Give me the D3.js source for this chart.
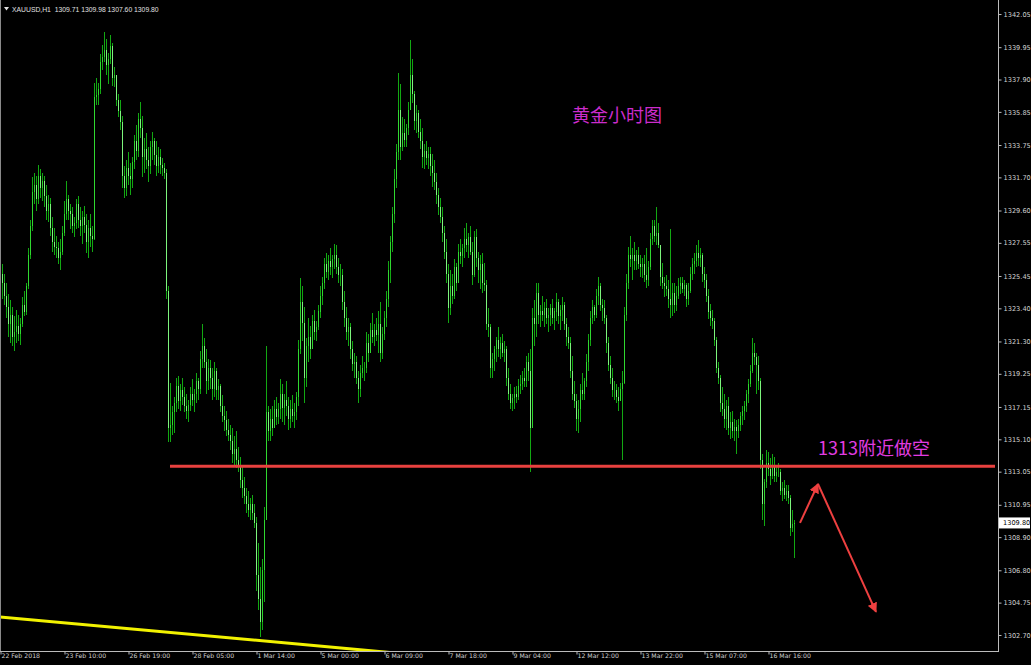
<!DOCTYPE html>
<html><head><meta charset="utf-8">
<script src="https://cdn.jsdelivr.net/npm/d3@7/dist/d3.min.js"></script>
<style>html,body{margin:0;padding:0;background:#000;}svg{display:block;}</style>
</head><body>
<svg id="c" width="1031" height="665"></svg>
<script>
// ---- DATA (XAUUSD H1, 22 Feb 2018 - 16 Mar 2018) ----
const firstOpen = 1325.6;
const closes = [
1325.0,1324.2,1323.5,1322.4,1323.0,1321.6,1321.9,1322.3,1321.8,1322.4,
1323.6,1323.2,1324.8,1326.8,1328.6,1330.8,1331.2,1330.3,1331.8,1331.0,
1331.5,1330.5,1329.6,1330.0,1328.5,1327.6,1327.3,1327.2,1326.6,1327.0,
1328.2,1329.4,1330.3,1329.6,1329.4,1328.6,1328.8,1330.0,1329.0,1328.6,
1329.2,1328.7,1327.6,1328.5,1328.0,1327.8,1336.8,1336.9,1337.3,1339.0,
1339.3,1339.8,1338.8,1339.2,1340.0,1338.0,1338.2,1336.6,1335.9,1335.2,
1331.8,1331.0,1332.3,1331.8,1331.6,1332.7,1334.0,1333.4,1335.4,1334.8,
1333.0,1333.5,1332.8,1332.4,1333.6,1334.0,1333.1,1332.4,1333.0,1332.5,
1332.3,1332.0,1324.5,1315.8,1316.0,1316.8,1317.4,1318.5,1317.5,1318.2,
1317.8,1317.2,1316.9,1317.3,1318.0,1317.6,1318.0,1318.8,1318.3,1320.2,
1321.0,1320.0,1318.8,1319.6,1319.0,1318.3,1319.4,1318.2,1318.5,1317.2,
1316.6,1316.3,1315.7,1315.4,1315.0,1314.2,1314.5,1313.8,1313.5,1312.5,
1312.0,1311.5,1311.0,1310.6,1311.0,1310.4,1309.8,1306.5,1305.0,1303.5,
1306.8,1310.0,1316.8,1315.6,1316.4,1315.8,1317.0,1316.5,1317.0,1318.0,
1317.1,1317.6,1317.2,1316.4,1317.0,1316.6,1316.8,1317.8,1320.8,1323.8,
1322.5,1319.0,1321.0,1321.6,1320.8,1322.6,1321.9,1322.2,1323.2,1324.2,
1325.0,1326.2,1325.7,1326.4,1326.0,1326.5,1326.8,1326.0,1325.5,1325.5,
1323.8,1322.8,1321.9,1322.2,1320.8,1319.9,1320.0,1319.0,1318.3,1319.3,
1319.6,1319.6,1321.2,1320.6,1322.0,1321.6,1322.0,1321.7,1322.4,1320.6,
1321.8,1322.8,1324.0,1325.8,1327.6,1329.4,1331.6,1333.3,1336.0,1333.6,
1334.5,1334.1,1334.8,1336.0,1338.2,1337.0,1335.3,1335.8,1334.6,1334.0,
1333.0,1333.4,1332.9,1333.2,1332.4,1332.0,1331.4,1330.6,1329.8,1329.2,
1328.2,1327.0,1325.6,1323.4,1324.8,1324.2,1326.0,1325.0,1327.0,1326.7,
1327.2,1327.8,1327.4,1327.9,1327.0,1325.5,1327.9,1326.6,1325.8,1326.2,
1325.0,1324.9,1322.4,1322.2,1319.6,1320.2,1320.8,1321.4,1320.8,1321.2,
1320.6,1320.8,1319.0,1318.0,1317.4,1317.7,1318.0,1317.8,1318.5,1318.6,
1319.0,1318.8,1320.0,1319.4,1315.8,1322.8,1322.4,1324.4,1323.0,1323.2,
1323.0,1323.4,1322.8,1323.0,1323.4,1322.8,1323.2,1323.8,1322.9,1323.3,
1323.6,1322.4,1321.6,1321.2,1319.4,1318.0,1317.5,1316.4,1317.0,1318.2,
1318.0,1318.8,1320.0,1321.4,1322.8,1323.5,1323.0,1324.2,1324.8,1323.6,
1323.4,1322.8,1321.2,1319.8,1319.0,1318.2,1318.2,1317.8,1317.5,1318.3,
1318.7,1323.0,1325.0,1326.8,1326.5,1326.8,1326.4,1326.8,1326.2,1326.0,
1326.2,1325.5,1325.2,1326.0,1327.8,1328.6,1328.0,1328.2,1327.4,1325.4,
1325.0,1324.8,1324.6,1324.0,1323.6,1324.4,1323.6,1324.2,1324.8,1325.0,
1324.6,1324.9,1324.0,1324.5,1325.6,1326.2,1326.4,1326.9,1326.6,1326.8,
1325.6,1325.2,1324.2,1323.2,1322.8,1322.6,1321.4,1319.6,1319.0,1317.4,
1317.0,1316.4,1317.2,1315.8,1316.2,1315.6,1315.9,1315.6,1316.0,1316.6,
1316.9,1317.2,1318.0,1318.6,1319.4,1320.6,1320.3,1319.8,1318.8,1313.8,
1311.0,1312.4,1313.6,1313.2,1312.8,1313.4,1312.8,1313.0,1313.0,1311.8,
1312.0,1311.6,1311.8,1311.4,1309.5,1309.71,1309.80];
const highs = [
1326.2,1325.6,1325.0,1324.3,1323.9,1323.5,1322.9,1323.3,1323.0,1322.8,
1324.1,1324.5,1325.0,1327.2,1329.0,1331.7,1332.0,1331.8,1332.5,1332.2,
1332.0,1331.8,1331.2,1330.6,1330.4,1329.2,1328.5,1328.0,1327.6,1327.8,
1328.6,1330.2,1331.5,1330.6,1330.0,1329.8,1329.2,1330.3,1330.5,1329.8,
1329.6,1329.9,1329.4,1329.0,1329.4,1328.6,1337.7,1338.0,1337.7,1339.5,
1340.1,1340.9,1340.5,1339.6,1340.7,1340.2,1338.7,1338.2,1337.0,1336.6,
1335.6,1332.4,1332.8,1333.3,1332.6,1333.0,1334.4,1335.0,1335.8,1336.5,
1335.6,1334.2,1334.5,1333.6,1334.0,1334.6,1334.2,1334.0,1333.6,1333.5,
1332.9,1332.6,1332.2,1324.8,1318.7,1317.2,1317.8,1319.0,1319.1,1318.6,
1319.0,1318.4,1318.0,1317.6,1318.4,1318.9,1318.3,1319.3,1319.0,1320.7,
1322.4,1321.5,1320.8,1320.2,1320.1,1319.6,1320.0,1319.6,1318.9,1318.6,
1317.9,1317.2,1316.9,1316.4,1316.0,1315.8,1315.3,1315.6,1314.6,1314.0,
1313.5,1312.7,1312.0,1311.8,1311.4,1311.6,1311.0,1310.2,1308.5,1307.0,
1307.5,1310.8,1321.0,1317.2,1317.0,1317.2,1317.6,1317.8,1317.4,1318.9,
1318.6,1318.0,1318.8,1317.8,1317.6,1317.9,1317.4,1318.1,1321.4,1325.3,
1324.8,1323.5,1321.5,1322.8,1322.3,1323.0,1323.3,1322.6,1323.6,1324.8,
1325.4,1326.6,1326.9,1326.8,1327.2,1326.8,1327.5,1327.4,1326.6,1326.2,
1325.9,1324.5,1323.5,1322.8,1322.5,1321.3,1320.6,1320.4,1319.4,1319.8,
1320.4,1320.0,1321.9,1321.8,1322.5,1323.1,1322.4,1322.8,1323.2,1323.8,
1322.2,1323.2,1324.5,1326.4,1328.0,1329.8,1332.2,1333.8,1338.3,1337.6,
1335.5,1335.4,1335.1,1336.5,1340.4,1339.2,1337.2,1336.3,1336.0,1335.4,
1334.8,1333.8,1334.0,1333.6,1333.6,1333.2,1332.8,1332.0,1331.0,1330.4,
1329.8,1328.6,1327.8,1326.2,1325.8,1325.6,1326.5,1326.3,1327.5,1327.8,
1327.5,1328.5,1328.8,1328.2,1328.6,1327.6,1328.3,1328.4,1327.0,1326.8,
1326.9,1326.3,1325.2,1323.4,1322.4,1320.6,1321.0,1321.6,1322.2,1321.6,
1321.8,1321.3,1321.0,1319.6,1318.6,1318.0,1318.4,1318.5,1318.9,1319.2,
1319.4,1319.6,1320.4,1320.6,1320.8,1323.4,1323.9,1325.0,1325.0,1323.6,
1324.2,1323.8,1324.0,1323.4,1323.7,1324.0,1323.4,1324.4,1324.0,1323.6,
1324.1,1323.8,1322.8,1322.2,1321.6,1320.4,1318.8,1318.0,1317.6,1318.6,
1319.3,1319.0,1320.5,1321.8,1323.2,1323.9,1323.6,1324.6,1325.4,1325.0,
1324.0,1323.9,1323.0,1321.6,1320.4,1319.6,1318.8,1318.6,1318.4,1318.7,
1319.4,1323.5,1325.6,1327.3,1328.0,1327.2,1327.6,1327.1,1327.3,1326.8,
1326.6,1326.8,1327.2,1326.4,1328.2,1329.0,1329.0,1329.8,1328.8,1327.4,
1326.3,1325.4,1325.5,1325.2,1328.4,1325.0,1325.0,1324.8,1325.3,1325.4,
1325.4,1325.2,1325.0,1325.0,1326.0,1326.6,1326.9,1327.4,1327.7,1327.2,
1326.9,1326.0,1325.6,1324.6,1323.7,1323.3,1322.8,1321.6,1320.0,1319.2,
1318.4,1318.0,1317.6,1317.8,1316.8,1316.9,1316.4,1316.3,1316.4,1316.8,
1317.2,1317.5,1318.2,1318.9,1319.8,1321.5,1321.2,1320.6,1320.4,1319.0,
1314.2,1312.6,1314.4,1314.3,1313.9,1314.2,1314.0,1313.4,1313.6,1313.2,
1312.4,1312.5,1312.2,1312.2,1311.6,1310.6,1309.98];
const lows = [
1324.0,1323.6,1322.8,1321.6,1321.2,1321.0,1320.7,1321.2,1321.3,1321.1,
1322.2,1322.9,1323.0,1324.6,1326.5,1328.3,1330.0,1329.6,1330.0,1330.4,
1330.2,1329.8,1329.0,1328.9,1328.0,1327.0,1326.8,1326.6,1326.2,1325.8,
1326.8,1328.0,1329.0,1329.0,1328.4,1328.2,1327.9,1328.4,1328.5,1328.0,
1327.5,1328.2,1326.9,1326.6,1327.3,1327.0,1327.7,1336.3,1336.3,1337.0,
1338.5,1339.0,1338.2,1337.6,1338.9,1337.5,1337.4,1336.2,1335.5,1334.7,
1331.0,1330.4,1330.5,1331.2,1330.6,1331.0,1332.2,1332.8,1333.0,1334.2,
1331.7,1332.0,1332.2,1331.4,1331.9,1332.8,1332.5,1331.8,1332.0,1331.9,
1331.8,1331.6,1324.0,1314.9,1314.9,1315.4,1315.5,1316.8,1317.0,1316.9,
1317.3,1316.8,1316.4,1316.2,1316.9,1317.2,1316.8,1317.4,1317.6,1318.0,
1319.6,1319.6,1318.0,1318.2,1318.3,1317.6,1317.8,1317.6,1317.6,1316.8,
1316.2,1315.6,1315.3,1315.0,1314.4,1313.6,1313.4,1313.3,1313.0,1312.0,
1311.4,1311.0,1310.4,1310.2,1310.0,1310.0,1309.5,1305.5,1304.3,1302.6,
1303.0,1304.8,1310.0,1315.0,1315.0,1315.3,1315.9,1316.0,1316.1,1316.4,
1316.2,1316.0,1316.6,1315.7,1315.8,1316.2,1315.8,1316.3,1317.2,1320.5,
1321.3,1317.4,1318.4,1320.0,1320.2,1321.0,1321.4,1321.3,1322.0,1322.8,
1323.6,1324.6,1325.3,1325.2,1325.5,1325.3,1325.9,1325.6,1325.0,1324.8,
1323.3,1322.2,1321.4,1321.0,1320.2,1319.4,1319.0,1318.6,1317.4,1317.8,
1319.0,1318.8,1319.3,1320.0,1320.8,1321.2,1321.0,1321.3,1320.6,1320.0,
1320.2,1321.4,1322.2,1323.5,1325.0,1327.0,1328.8,1331.0,1332.8,1332.8,
1333.4,1333.6,1333.6,1334.4,1336.0,1336.4,1334.7,1334.5,1334.2,1333.5,
1332.3,1332.2,1332.5,1332.2,1331.8,1331.1,1330.9,1330.0,1329.3,1328.8,
1327.6,1326.5,1325.0,1322.5,1323.0,1323.7,1324.0,1324.5,1325.0,1326.2,
1326.0,1326.6,1327.0,1326.6,1326.8,1324.9,1325.4,1326.0,1325.0,1324.6,
1324.4,1324.5,1322.0,1321.6,1319.0,1319.0,1319.4,1320.0,1320.3,1320.2,
1320.3,1320.0,1318.5,1317.6,1317.0,1316.9,1317.0,1317.4,1317.6,1318.0,
1318.2,1318.4,1318.4,1318.8,1313.0,1315.8,1321.0,1321.6,1322.4,1322.2,
1322.6,1322.2,1322.4,1321.9,1322.3,1322.4,1322.0,1322.6,1322.4,1322.0,
1322.6,1322.0,1321.0,1320.8,1319.0,1317.6,1317.1,1315.6,1315.5,1316.2,
1317.6,1317.6,1318.4,1319.4,1321.0,1322.4,1322.6,1322.8,1323.6,1323.2,
1322.6,1322.4,1320.6,1319.4,1318.6,1317.8,1317.6,1317.4,1316.9,1317.5,
1313.8,1318.6,1322.6,1324.6,1326.0,1325.2,1325.8,1325.8,1325.9,1325.4,
1325.3,1325.1,1324.7,1324.8,1325.8,1327.4,1327.6,1327.4,1327.2,1324.8,
1324.6,1324.1,1324.2,1323.4,1322.8,1322.9,1323.1,1323.2,1324.0,1324.3,
1324.4,1324.2,1323.5,1323.6,1324.4,1325.2,1325.6,1326.0,1326.1,1326.0,
1325.1,1324.7,1323.8,1322.7,1322.3,1322.1,1321.0,1319.3,1318.6,1316.8,
1316.6,1315.8,1315.7,1315.4,1315.1,1315.2,1315.0,1314.2,1315.2,1315.6,
1316.0,1316.3,1316.8,1317.4,1318.4,1319.3,1319.8,1318.0,1318.2,1313.2,
1310.0,1309.6,1312.0,1312.8,1312.2,1312.6,1312.4,1312.4,1312.7,1311.6,
1311.2,1311.3,1311.2,1311.0,1309.0,1309.2,1307.60];

const priceTicks = [1342.05,1339.95,1337.90,1335.85,1333.75,1331.70,1329.60,1327.55,1325.45,1323.40,
  1321.30,1319.25,1317.15,1315.10,1313.05,1310.95,1308.90,1306.80,1304.75,1302.70];
const timeTickIdx = [0,32,64,96,128,160,192,224,256,288,320,352,384];
const timeLabels = ["22 Feb 2018","23 Feb 10:00","26 Feb 19:00","28 Feb 05:00","1 Mar 14:00","5 Mar 00:00",
  "6 Mar 09:00","7 Mar 18:00","9 Mar 04:00","12 Mar 12:00","13 Mar 22:00","15 Mar 07:00","16 Mar 16:00"];
const headerText = "XAUUSD,H1  1309.71 1309.98 1307.60 1309.80";
const lastPrice = 1309.80;
const shortLevel = 1313.4;           // red horizontal line
const shortLevelFrom = 84;           // bar index where it starts
const trendLine = [[-1, 1303.84], [194, 1301.59]];   // yellow trendline
const arrowUp = [[399, 1309.80], [408, 1312.27]];
const arrowDown = [[408, 1312.27], [437, 1304.16]];
const titleText = "黄金小时图";
const noteText = "1313附近做空";

// ---- LAYOUT ----
const W = 1031, H = 665;
const plotRight = 998, plotBottom = 651;
const n = Math.min(closes.length, highs.length, lows.length);
const x = d3.scaleLinear().domain([0, 396]).range([2, 794]);
const y = d3.scaleLinear().domain([1301.685, 1342.94]).range([plotBottom, 0]);

const svg = d3.select("#c");
svg.append("rect").attr("width", W).attr("height", H).attr("fill", "#000");

svg.append("defs").append("clipPath").attr("id", "plot")
  .append("rect").attr("x", 0).attr("y", 0).attr("width", plotRight).attr("height", plotBottom);

const plot = svg.append("g").attr("clip-path", "url(#plot)");

// candles
const bars = d3.range(n).map(i => {
  const o = i === 0 ? firstOpen : closes[i - 1];
  const c = closes[i];
  return {i, o, c, h: Math.max(highs[i], o, c), l: Math.min(lows[i], o, c)};
});
const cg = plot.append("g").attr("shape-rendering", "crispEdges");
cg.selectAll("line.w").data(bars).join("line").attr("class", "w")
  .attr("x1", d => Math.round(x(d.i)) + 0.5).attr("x2", d => Math.round(x(d.i)) + 0.5)
  .attr("y1", d => y(d.h)).attr("y2", d => y(d.l))
  .attr("stroke", "#12a812").attr("stroke-width", 1);
cg.selectAll("line.b").data(bars).join("line").attr("class", "b")
  .attr("x1", d => Math.round(x(d.i)) + 0.5).attr("x2", d => Math.round(x(d.i)) + 0.5)
  .attr("y1", d => y(Math.max(d.o, d.c))).attr("y2", d => y(Math.min(d.o, d.c)) + 0.01)
  .attr("stroke", d => d.c < d.o ? "#7cf57c" : "#2fd82f").attr("stroke-width", 1);

// yellow trend line
plot.append("line")
  .attr("x1", x(trendLine[0][0])).attr("y1", y(trendLine[0][1]))
  .attr("x2", x(trendLine[1][0])).attr("y2", y(trendLine[1][1]))
  .attr("stroke", "#f2f200").attr("stroke-width", 3);

// red horizontal level
plot.append("line")
  .attr("x1", x(shortLevelFrom)).attr("x2", 995)
  .attr("y1", y(shortLevel)).attr("y2", y(shortLevel))
  .attr("stroke", "#e8413f").attr("stroke-width", 3);

// arrows
const defs = svg.select("defs");
defs.append("marker").attr("id", "ah").attr("viewBox", "0 0 10 10")
  .attr("refX", 9).attr("refY", 5).attr("markerWidth", 5).attr("markerHeight", 5)
  .attr("orient", "auto").attr("markerUnits", "strokeWidth")
  .append("path").attr("d", "M0,0 L10,5 L0,10 Z").attr("fill", "#ee4040");
[arrowUp, arrowDown].forEach(a => {
  plot.append("line")
    .attr("x1", x(a[0][0])).attr("y1", y(a[0][1]))
    .attr("x2", x(a[1][0])).attr("y2", y(a[1][1]))
    .attr("stroke", "#ee4040").attr("stroke-width", 2)
    .attr("marker-end", "url(#ah)");
});

// annotation texts
svg.append("text").attr("x", 572).attr("y", 122).text(titleText)
  .attr("fill", "#cc2ccc").attr("font-family", "Noto Sans CJK SC").attr("font-size", 18);
svg.append("text").attr("x", 818).attr("y", 455).text(noteText)
  .attr("fill", "#e23ce2").attr("font-family", "Noto Sans CJK SC").attr("font-size", 18);

// header
svg.append("path").attr("d", "M4,7 L9,7 L6.5,10.5 Z").attr("fill", "#e0e0e0");
svg.append("text").attr("x", 12).attr("y", 11.5).text(headerText)
  .attr("fill", "#e0e0e0").attr("font-family", "Liberation Sans").attr("font-size", 6.8)
  .attr("xml:space", "preserve").style("white-space", "pre");

// frame
const axisColor = "#bcbcbc";
svg.append("line").attr("x1", plotRight + 0.5).attr("x2", plotRight + 0.5).attr("y1", 0).attr("y2", plotBottom + 1)
  .attr("stroke", axisColor);
svg.append("line").attr("x1", 0).attr("x2", plotRight + 1).attr("y1", plotBottom + 0.5).attr("y2", plotBottom + 0.5)
  .attr("stroke", axisColor);
svg.append("line").attr("x1", 0.5).attr("x2", 0.5).attr("y1", 0).attr("y2", plotBottom)
  .attr("stroke", "#8a8a8a");

// right price axis
const ya = svg.append("g").attr("transform", `translate(${plotRight + 0.5},0)`)
  .call(d3.axisRight(y).tickValues(priceTicks).tickSize(3).tickPadding(2).tickFormat(d3.format(".2f")));
ya.select(".domain").remove();
ya.selectAll(".tick line").attr("stroke", axisColor);
ya.selectAll(".tick text").attr("fill", "#d0d0d0").attr("font-family", "DejaVu Sans").attr("font-size", 6.6);

// current price box
const lp = svg.append("g").attr("transform", `translate(999,${y(lastPrice)})`);
lp.append("rect").attr("x", 0).attr("y", -5.5).attr("width", 31).attr("height", 11).attr("fill", "#fff");
lp.append("text").attr("x", 4).attr("y", 2.5).text(d3.format(".2f")(lastPrice))
  .attr("fill", "#000").attr("font-family", "DejaVu Sans").attr("font-size", 6.6);

// bottom time axis
const xa = svg.append("g").attr("transform", `translate(0,${plotBottom + 0.5})`)
  .call(d3.axisBottom(x).tickValues(timeTickIdx).tickSize(3).tickFormat((d, i) => timeLabels[i]));
xa.select(".domain").remove();
xa.selectAll(".tick line").attr("stroke", axisColor)
  .attr("transform", "translate(-1.5,0)");
xa.selectAll(".tick text").attr("text-anchor", "start").attr("x", -1).attr("dy", "0.5em").attr("y", 3)
  .attr("fill", "#d0d0d0").attr("font-family", "DejaVu Sans").attr("font-size", 6.2);
</script>
</body></html>
